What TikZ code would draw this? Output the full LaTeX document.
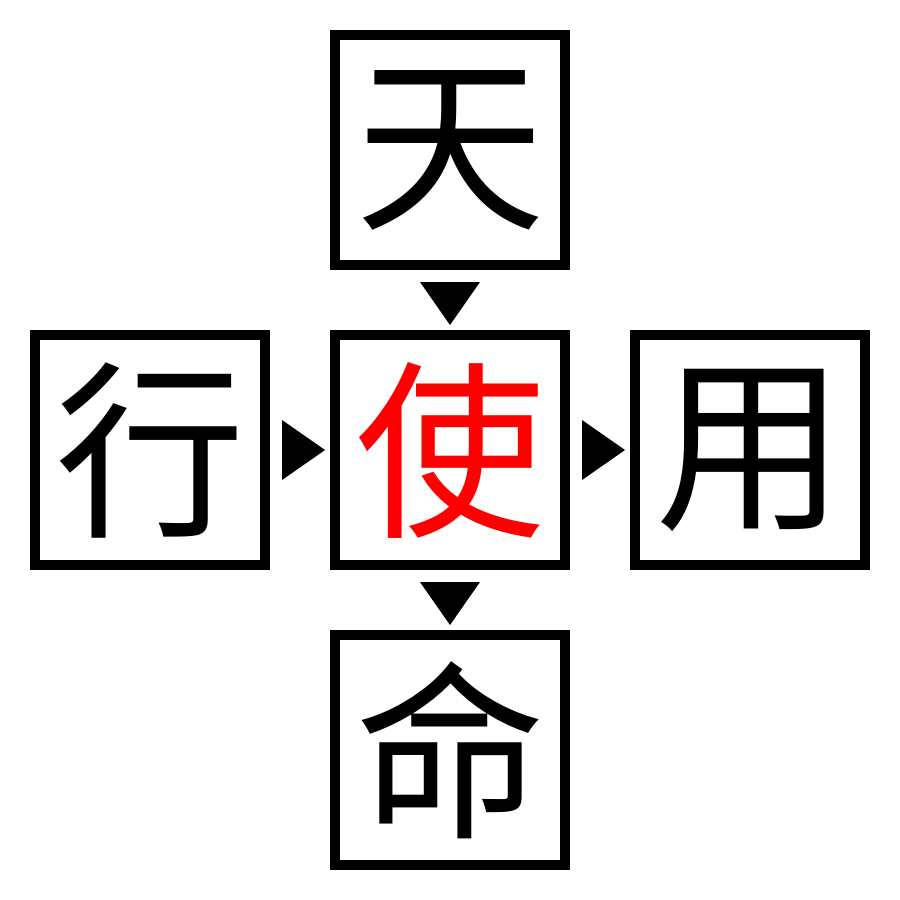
\documentclass[tikz,border=0pt]{standalone}
\usepackage{fontspec}
\usetikzlibrary{calc}
\newfontfamily\cjk{Noto Sans CJK SC}
\begin{document}
\begin{tikzpicture}[x=1pt,y=-1pt,
  charbox/.style={draw=black,line width=10pt,minimum size=230pt,inner sep=0pt,font=\cjk\fontsize{190}{190}\selectfont},
  tri/.style={fill=black,draw=none}]
\useasboundingbox (0,0) rectangle (900,900);
\node[charbox] (tian) at (450,150) {天};
\node[charbox] (xing) at (150,450) {行};
\node[charbox,text=red] (shi) at (450,450) {使};
\node[charbox] (yong) at (750,450) {用};
\node[charbox] (ming) at (450,750) {命};
\coordinate (m1) at ($(tian)!0.5!(shi)$);
\coordinate (m2) at ($(shi)!0.5!(ming)$);
\coordinate (m3) at ($(xing)!0.5!(shi)$);
\coordinate (m4) at ($(shi)!0.5!(yong)$);
\fill[tri] ($(m1)+(-30,-18)$) -- ($(m1)+(30,-18)$) -- ($(m1)+(0,25)$) -- cycle;
\fill[tri] ($(m2)+(-30,-18)$) -- ($(m2)+(30,-18)$) -- ($(m2)+(0,25)$) -- cycle;
\fill[tri] ($(m3)+(-18,-30)$) -- ($(m3)+(-18,30)$) -- ($(m3)+(25,0)$) -- cycle;
\fill[tri] ($(m4)+(-18,-30)$) -- ($(m4)+(-18,30)$) -- ($(m4)+(25,0)$) -- cycle;
\end{tikzpicture}
\end{document}
